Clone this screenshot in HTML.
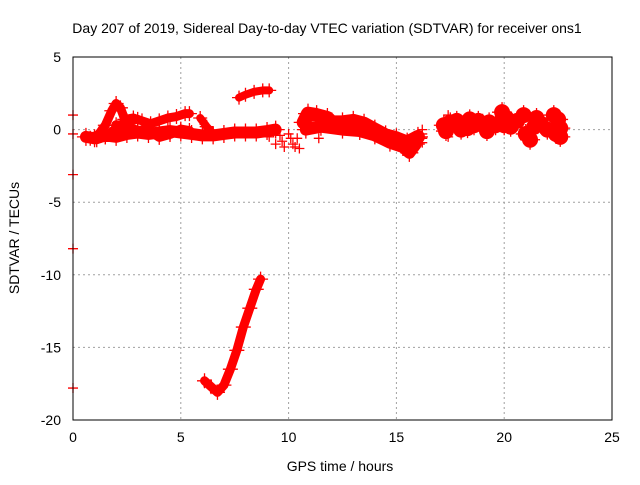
<!DOCTYPE html>
<html><head><meta charset="utf-8"><style>
body{margin:0;background:#fff;font-family:"Liberation Sans",sans-serif}
text{font-family:"Liberation Sans",sans-serif;font-size:14px;fill:#000}
</style></head><body>
<svg id="chart" width="640" height="480">
<g id="grid"></g>
<g id="data"></g>
<g id="axes"></g>
<text x="327" y="33" text-anchor="middle">Day 207 of 2019, Sidereal Day-to-day VTEC variation (SDTVAR) for receiver ons1</text>
<text x="340" y="471" text-anchor="middle">GPS time / hours</text>
<text x="19" y="238" text-anchor="middle" transform="rotate(-90 19 238)">SDTVAR / TECUs</text>
</svg>
<script>
const xTicks=[0,5,10,15,20,25];
const yTicks=[5,0,-5,-10,-15,-20];
const trackA=[[0.6,-0.5],[1.0,-0.6],[1.5,-0.4],[2.0,-0.5],[2.5,-0.3],[3.0,-0.2],[3.5,-0.3],[4.0,-0.2],[4.5,-0.1],[5.0,-0.2],[5.5,-0.3],[6.0,-0.4],[6.5,-0.4],[7.0,-0.3],[7.5,-0.2],[8.0,-0.2],[8.5,-0.2],[9.0,-0.1],[9.4,0.0]];
const trackB=[[0.8,-0.6],[1.2,-0.3],[1.5,0.3],[1.8,1.3],[2.0,1.8],[2.2,1.5],[2.4,0.7],[2.8,0.8],[3.2,0.6],[3.6,0.4],[4.0,0.6],[4.4,0.8],[4.8,0.9],[5.2,1.1],[5.4,1.1]];
const trackB2=[[1.1,-0.7],[1.5,-0.5],[2.0,0.1],[2.5,0.6],[3.0,0.7]];
const trackC=[[2.0,0.3],[2.5,0.2],[3.0,-0.1],[3.5,0.0],[4.0,-0.5],[4.5,-0.3],[5.0,0.0],[5.4,-0.1]];
const trackC2=[[5.9,0.8],[6.2,0.2],[6.5,-0.3]];
const trackD=[[7.7,2.2],[8.0,2.4],[8.4,2.6],[8.8,2.7],[9.1,2.7]];
const trackE=[[6.1,-17.3],[6.4,-17.7],[6.7,-18.1],[7.0,-17.6],[7.3,-16.5],[7.6,-15.2],[7.9,-13.6],[8.2,-12.3],[8.5,-11.0],[8.7,-10.3]];
const trackF=[[10.7,0.5],[10.9,1.1],[11.3,1.0],[11.8,0.8],[12.0,0.5],[12.5,0.5],[13.0,0.6],[13.5,0.4],[14.0,0.0],[14.5,-0.4],[15.0,-0.6],[15.5,-0.9],[16.0,-0.5]];
const trackF2=[[10.8,0.0],[11.5,0.2],[12.5,0.0],[13.3,-0.1],[14.0,-0.4],[14.7,-0.9],[15.3,-1.2],[15.6,-1.6],[15.9,-1.0]];
const scatter=[[9.1,-0.5],[9.4,-1.0],[9.6,-0.4],[9.8,-1.2],[10.0,-0.3],[10.2,-1.0],[10.4,-0.6],[10.5,-1.3],[9.3,-0.2],[9.7,-0.8],[10.1,-0.6],[10.3,-1.2],[16.2,0.0],[16.2,-0.3],[16.2,-0.6],[16.2,-0.9],[11.4,-0.6],[17.4,-0.5],[17.4,1.0],[0,1.0],[0,-0.3],[0,-3.1],[0,-8.2],[0,-17.8]];
const clusters=[[17.2,0.3],[17.5,0.5],[17.8,0.6],[17.3,-0.1],[18.0,0.0],[18.3,0.1],[18.6,0.3],[18.4,0.7],[18.8,0.6],[19.0,0.4],[19.3,0.5],[19.2,-0.1],[19.6,0.3],[19.9,1.2],[20.0,0.3],[20.1,0.8],[20.3,0.2],[20.6,0.6],[20.9,1.0],[21.0,-0.3],[21.2,-0.7],[21.4,0.2],[21.5,0.8],[21.7,0.4],[22.0,0.0],[22.3,1.0],[22.5,0.7],[22.4,-0.3],[22.6,-0.5],[22.6,0.1]];
const NS="http://www.w3.org/2000/svg";
const L=73,R=612,T=57,B=420;
const xs=h=>L+(h-0)/(25-0)*(R-L);
const ys=v=>B-(v+20)/25*(B-T);
function mk(tag,attrs,parent){const e=document.createElementNS(NS,tag);for(const k in attrs)e.setAttribute(k,attrs[k]);parent.appendChild(e);return e;}
const grid=document.getElementById('grid'),axes=document.getElementById('axes'),data=document.getElementById('data');
xTicks.forEach(t=>{
  if(t>0&&t<25){const g=mk('line',{x1:xs(t),x2:xs(t),y1:T,y2:B,stroke:'#a0a0a0','stroke-dasharray':'2,3'},grid);
  
  }
  const tk=mk('text',{x:xs(t),y:B+22,'text-anchor':'middle'},axes);tk.textContent=t;
  
  
});
yTicks.forEach(t=>{
  if(t<5&&t>-20){const g=mk('line',{x1:L,x2:R,y1:ys(t),y2:ys(t),stroke:'#a0a0a0','stroke-dasharray':'2,3'},grid);
  
  }
  const tk=mk('text',{x:L-12,y:ys(t)+5,'text-anchor':'end'},axes);tk.textContent=t;
  
  
});
const fr=mk('rect',{x:L,y:T,width:R-L,height:B-T,fill:'none',stroke:'#000'},axes);


function plus(p,s){
  s=s||5;
  const x=xs(p[0]),y=ys(p[1]);
  const e=mk('path',{d:`M${x-s},${y}h${2*s}M${x},${y-s}v${2*s}`,stroke:'#f00','stroke-width':1.3},data);
  
  
}
const widths=[12,9,9,10,8,8,9,14,12];
[trackA,trackB,trackB2,trackC,trackC2,trackD,trackE,trackF,trackF2].forEach((tr,i)=>{
  const pl=mk('polyline',{points:tr.map(p=>xs(p[0])+','+ys(p[1])).join(' '),fill:'none',stroke:'#f00','stroke-width':widths[i],'stroke-linejoin':'round','stroke-linecap':'round'},data);
  
  
  tr.forEach(p=>plus(p,widths[i]/2+3));
});
clusters.forEach(p=>{
  const c=mk('circle',{cx:xs(p[0]),cy:ys(p[1]),r:8,fill:'#f00'},data);
  
  
  plus(p,10);
});
scatter.forEach(p=>plus(p,5));
</script>
</body></html>
